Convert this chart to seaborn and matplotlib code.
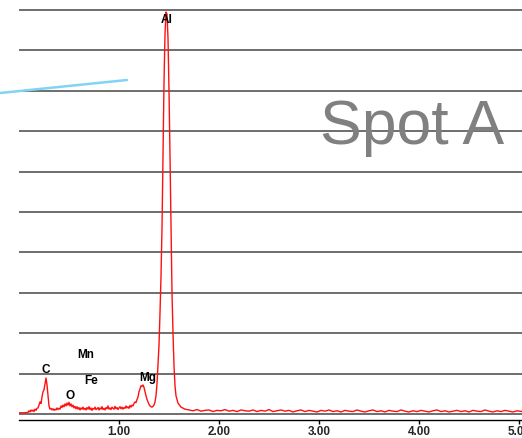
import matplotlib
matplotlib.use("Agg")
import matplotlib.pyplot as plt
import seaborn as sns
from matplotlib.lines import Line2D

# spectrum (energy in keV, intensity in grid units)
energy = [
    0.00, 0.05, 0.09, 0.10, 0.11, 0.12, 0.13, 0.14, 0.15, 0.16, 0.17, 0.18, 0.19, 0.20,
    0.21, 0.22, 0.23, 0.24, 0.25, 0.26, 0.27, 0.28, 0.29, 0.30, 0.31, 0.32, 0.33, 0.34,
    0.35, 0.36, 0.37, 0.38, 0.39, 0.40, 0.41, 0.42, 0.43, 0.44, 0.45, 0.46, 0.47, 0.48,
    0.49, 0.50, 0.51, 0.52, 0.53, 0.54, 0.55, 0.56, 0.57, 0.58, 0.59, 0.60, 0.61, 0.62,
    0.63, 0.64, 0.65, 0.66, 0.67, 0.68, 0.69, 0.70, 0.71, 0.72, 0.73, 0.74, 0.75, 0.76,
    0.77, 0.78, 0.79, 0.80, 0.81, 0.82, 0.83, 0.84, 0.85, 0.86, 0.87, 0.88, 0.89, 0.90,
    0.91, 0.92, 0.93, 0.94, 0.95, 0.96, 0.97, 0.98, 0.99, 1.00, 1.01, 1.02, 1.03, 1.04,
    1.05, 1.06, 1.07, 1.08, 1.09, 1.10, 1.11, 1.12, 1.13, 1.14, 1.15, 1.16, 1.17, 1.18,
    1.19, 1.20, 1.21, 1.22, 1.23, 1.24, 1.25, 1.26, 1.27, 1.28, 1.29, 1.30, 1.31, 1.32,
    1.33, 1.34, 1.35, 1.36, 1.37, 1.38, 1.39, 1.40, 1.41, 1.42, 1.43, 1.44, 1.45, 1.46,
    1.47, 1.48, 1.49, 1.50, 1.51, 1.52, 1.53, 1.54, 1.55, 1.56, 1.57, 1.59, 1.62, 1.66,
    1.70, 1.74, 1.78, 1.82, 1.86, 1.90, 1.94, 1.98, 2.02, 2.06, 2.10, 2.14, 2.18, 2.22,
    2.26, 2.30, 2.34, 2.38, 2.42, 2.46, 2.50, 2.54, 2.58, 2.62, 2.66, 2.70, 2.74, 2.78,
    2.82, 2.86, 2.90, 2.94, 2.98, 3.02, 3.06, 3.10, 3.14, 3.18, 3.22, 3.26, 3.30, 3.34,
    3.38, 3.42, 3.46, 3.50, 3.54, 3.58, 3.62, 3.66, 3.70, 3.74, 3.78, 3.82, 3.86, 3.90,
    3.94, 3.98, 4.02, 4.06, 4.10, 4.14, 4.18, 4.22, 4.26, 4.30, 4.34, 4.38, 4.42, 4.46,
    4.50, 4.54, 4.58, 4.62, 4.66, 4.70, 4.74, 4.78, 4.82, 4.86, 4.90, 4.94, 4.98, 5.03,
]
counts = [
    0.03, 0.03, 0.04, 0.08, 0.05, 0.10, 0.07, 0.10, 0.06, 0.12, 0.09, 0.14, 0.15, 0.22,
    0.30, 0.26, 0.42, 0.55, 0.60, 0.74, 0.89, 0.72, 0.45, 0.20, 0.12, 0.14, 0.10, 0.13,
    0.09, 0.12, 0.10, 0.15, 0.11, 0.14, 0.12, 0.20, 0.16, 0.22, 0.18, 0.25, 0.20, 0.27,
    0.22, 0.29, 0.20, 0.25, 0.18, 0.22, 0.15, 0.19, 0.13, 0.18, 0.12, 0.16, 0.10, 0.15,
    0.12, 0.17, 0.11, 0.14, 0.10, 0.16, 0.12, 0.18, 0.11, 0.15, 0.09, 0.14, 0.12, 0.17,
    0.11, 0.13, 0.16, 0.10, 0.15, 0.12, 0.18, 0.11, 0.14, 0.10, 0.16, 0.13, 0.20, 0.12,
    0.15, 0.11, 0.17, 0.14, 0.12, 0.19, 0.13, 0.16, 0.11, 0.15, 0.18, 0.13, 0.17, 0.12,
    0.16, 0.14, 0.20, 0.15, 0.18, 0.14, 0.21, 0.17, 0.22, 0.20, 0.26, 0.30, 0.28, 0.36,
    0.42, 0.55, 0.62, 0.70, 0.68, 0.72, 0.66, 0.55, 0.45, 0.36, 0.30, 0.24, 0.20, 0.18,
    0.17, 0.19, 0.22, 0.30, 0.45, 0.75, 1.20, 1.70, 2.50, 3.40, 4.60, 6.40, 8.20, 9.40,
    9.95, 9.90, 9.30, 8.00, 6.40, 4.60, 3.00, 2.00, 1.20, 0.70, 0.45, 0.27, 0.17, 0.12,
    0.10, 0.08, 0.11, 0.07, 0.09, 0.10, 0.06, 0.09, 0.08, 0.11, 0.07, 0.09, 0.06, 0.10,
    0.08, 0.07, 0.10, 0.06, 0.09, 0.07, 0.11, 0.06, 0.08, 0.10, 0.07, 0.09, 0.05, 0.08,
    0.10, 0.06, 0.09, 0.07, 0.05, 0.09, 0.07, 0.10, 0.06, 0.08, 0.05, 0.09, 0.07, 0.06,
    0.10, 0.07, 0.05, 0.08, 0.10, 0.06, 0.08, 0.05, 0.09, 0.07, 0.06, 0.10, 0.07, 0.05,
    0.08, 0.06, 0.09, 0.07, 0.05, 0.08, 0.10, 0.06, 0.08, 0.05, 0.07, 0.09, 0.06, 0.08,
    0.05, 0.09, 0.07, 0.06, 0.10, 0.07, 0.05, 0.08, 0.06, 0.09, 0.07, 0.05, 0.08, 0.06,
]

# element markers: name, energy (keV), label height (grid units)
elements = ["Al", "C", "O", "Mn", "Fe", "Mg"]
elem_energy = [1.48, 0.27, 0.51, 0.67, 0.72, 1.29]
elem_height = [9.75, 1.09, 0.45, 1.46, 0.82, 0.89]

xticks = [1, 2, 3, 4, 5]
xtick_labels = ["1.00", "2.00", "3.00", "4.00", "5.00"]
grid_levels = list(range(11))

sns.set_style("white")
plt.rcParams["font.family"] = ["Liberation Sans", "DejaVu Sans"]

W, H = 522, 438
fig = plt.figure(figsize=(W / 100, H / 100), dpi=100)
ax = fig.add_axes([19 / W, 18 / H, 1 - 19 / W, 1 - 18 / H])

# horizontal guide lines
for lvl in grid_levels:
    ax.axhline(lvl, color="#6e6e6e", lw=1.4, zorder=1)

sns.lineplot(x=energy, y=counts, ax=ax, color="#ff1010", lw=1.0,
             estimator=None, sort=False, zorder=3)

for name, ex, ey in zip(elements, elem_energy, elem_height):
    ax.text(ex, ey, name, ha="center", va="center", fontsize=8.5,
            fontweight="bold", color="black", zorder=4)

ax.set_xlim(0, 5.03)
ax.set_ylim(-6 / 40.4, 414 / 40.4)
ax.set_xticks(xticks)
ax.set_xticklabels(xtick_labels, fontsize=8.5, fontweight="bold")
ax.set_yticks([])
ax.tick_params(axis="x", direction="out", length=3, width=1, color="black", pad=1.5, bottom=True)
for side in ["left", "right", "top"]:
    ax.spines[side].set_visible(False)
ax.spines["bottom"].set_color("black")
ax.spines["bottom"].set_linewidth(1.0)
ax.set_xlabel("")
ax.set_ylabel("")

fig.text(412 / W, 1 - 144 / H, "Spot A", ha="center", va="baseline",
         fontsize=45, color="#808080")

# cyan pointer line coming in from the left
fig.add_artist(Line2D([0, 127 / W], [1 - 93 / H, 1 - 80 / H], transform=fig.transFigure,
                      color="#80d4f4", lw=1.8))

fig.savefig("out.png", dpi=100)
